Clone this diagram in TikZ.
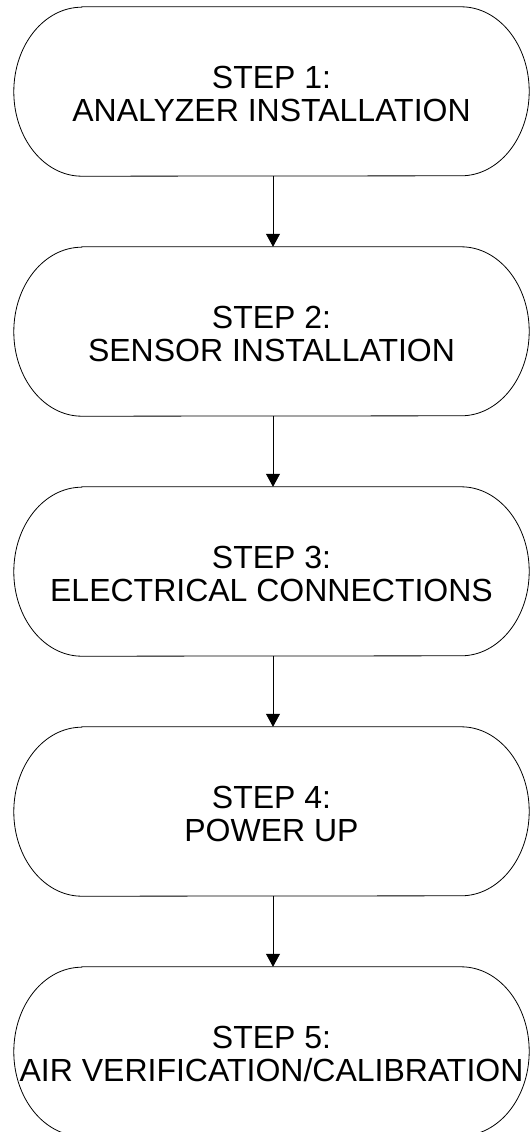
\documentclass[tikz,border=0pt]{standalone}
\usepackage{fontspec}
\setmainfont{Liberation Sans}
\usetikzlibrary{arrows.meta}
\begin{document}
\begin{tikzpicture}[x=1pt,y=1pt,
  stepbox/.style={draw=none,minimum width=515pt,minimum height=169pt,inner sep=0pt,align=center,
    font=\fontsize{32}{32.5}\selectfont},
  outline/.style={draw=black,line width=0.8pt},
  flow/.style={draw=black,line width=0.8pt,-{Triangle[length=13pt,width=14pt]}}]
\useasboundingbox (0,0) rectangle (530,-1132);
\node[stepbox] (s1) at (271.5,-94) {STEP 1:\\ANALYZER INSTALLATION};
\node[stepbox] (s2) at (271.5,-334) {STEP 2:\\SENSOR INSTALLATION};
\node[stepbox] (s3) at (271.5,-574) {STEP 3:\\ELECTRICAL CONNECTIONS};
\node[stepbox] (s4) at (271.5,-814) {STEP 4:\\POWER UP};
\node[stepbox] (s5) at (271.5,-1054) {STEP 5:\\AIR VERIFICATION/CALIBRATION};
\foreach \s in {s1,s2,s3,s4,s5}{
  \draw[outline] ([xshift=68pt,yshift=2.5pt]\s.north west) -- ([xshift=-68pt,yshift=2.5pt]\s.north east)
    arc[start angle=90,end angle=-90,x radius=68pt,y radius=84.5pt]
    -- ([xshift=68pt,yshift=2.5pt]\s.south west)
    arc[start angle=270,end angle=90,x radius=68pt,y radius=84.5pt] -- cycle;
}
\foreach \a/\b in {s1/s2,s2/s3,s3/s4,s4/s5}{
  \draw[flow] ([xshift=1.5pt,yshift=2.5pt]\a.south) -- ([xshift=1.5pt,yshift=2.5pt]\b.north);
}
\end{tikzpicture}
\end{document}
